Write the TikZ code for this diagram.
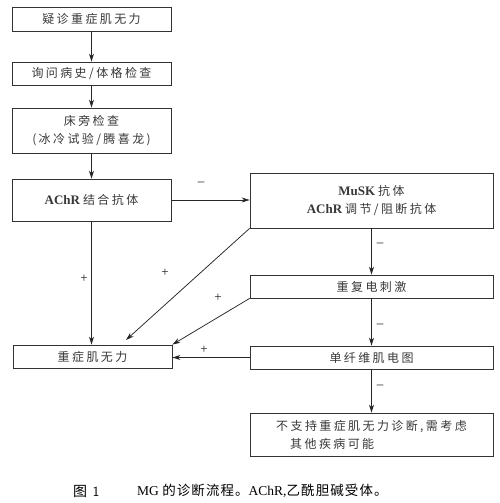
\documentclass[tikz,border=0pt]{standalone}
\usepackage{fontspec}
\setmainfont{Liberation Serif}
\newfontfamily\cj[LetterSpace=20]{Noto Sans CJK SC}
\newfontfamily\cjc[LetterSpace=8]{Noto Sans CJK SC}
\usetikzlibrary{arrows.meta}
\begin{document}
\begin{tikzpicture}[x=1pt,y=-1pt,
 box/.style={draw=black!80, line width=0.8pt, rectangle, inner sep=0pt, align=center, text=black!78, font=\fontsize{12}{18}\selectfont},
 lbox/.style={box, minimum width=159pt},
 rbox/.style={box, minimum width=243pt},
 arr/.style={draw=black!85, line width=0.75pt, -{Stealth[length=8pt,width=5pt]}},
 lab/.style={font=\fontsize{13}{13}\selectfont, text=black!90, inner sep=0pt}]
\newcommand\lat[1]{{\fontsize{13}{18}\selectfont\bfseries #1}}
\useasboundingbox (0,0) rectangle (500,503);
\node[lbox, minimum height=24pt] (b1) at (91.5,19) {\cj 疑诊重症肌无力};
\node[lbox, minimum height=23pt] (b2) at (91.5,73.5) {\cj 询问病史/体格检查};
\node[lbox, minimum height=45pt] (b3) at (91.5,130.5) {\cj 床旁检查\\\cj (冰冷试验/腾喜龙)};
\node[lbox, minimum height=42pt] (b4) at (91.5,200) {\lat{AChR} {\cj 结合抗体}};
\node[rbox, minimum height=55pt] (m) at (371.5,200.5) {\lat{MuSK} {\cj 抗体}\\\lat{AChR} {\cj 调节/阻断抗体}};
\node[rbox, minimum height=23pt] (r) at (371.5,286.5) {\cj 重复电刺激};
\node[lbox, minimum height=23pt] (mg) at (92.5,356.5) {\cj 重症肌无力};
\node[rbox, minimum height=23pt] (s) at (371.5,357.5) {\cj 单纤维肌电图};
\node[rbox, minimum height=43pt, align=left] (f) at (371.5,434.5) {\cj 不支持重症肌无力诊断,需考虑\\\hspace*{14pt}\cj 其他疾病可能};
\coordinate (t1) at (126,340);
\draw[arr] (b1) -- (b2);
\draw[arr] (b2) -- (b3);
\draw[arr] (b3) -- (b4);
\draw[arr] (b4.east) -- (b4.east -| m.west);
\draw[arr] (b4.south) -- (b4.south |- mg.north);
\draw[arr] (m.south west) -- (t1);
\draw[arr] (r.south west) -- (mg.north east);
\draw[arr] (s.west) -- (s.west -| mg.east);
\draw[arr] (m.south) -- (r.north);
\draw[arr] (r.south) -- (s.north);
\draw[arr] (s.south) -- (f.north);
\node[lab] (l1) at (201,184) {–};
\node[lab] (l2) at (84,279) {+};
\node[lab] (l3) at (165,273) {+};
\node[lab] (l4) at (218,298) {+};
\node[lab] (l5) at (204,350) {+};
\node[lab] (l6) at (380,245) {–};
\node[lab] (l7) at (380,326) {–};
\node[lab] (l8) at (380,387) {–};
\node[inner sep=0pt, anchor=west, font=\fontsize{14}{14}\selectfont] (c1) at (73,491) {\cjc 图 \textsf{1}};
\node[inner sep=0pt, anchor=west, font=\fontsize{13.5}{14}\selectfont] (c2) at (137,491) {MG {\cjc 的诊断流程。}AChR,{\cjc 乙酰胆碱受体。}};
\end{tikzpicture}
\end{document}
